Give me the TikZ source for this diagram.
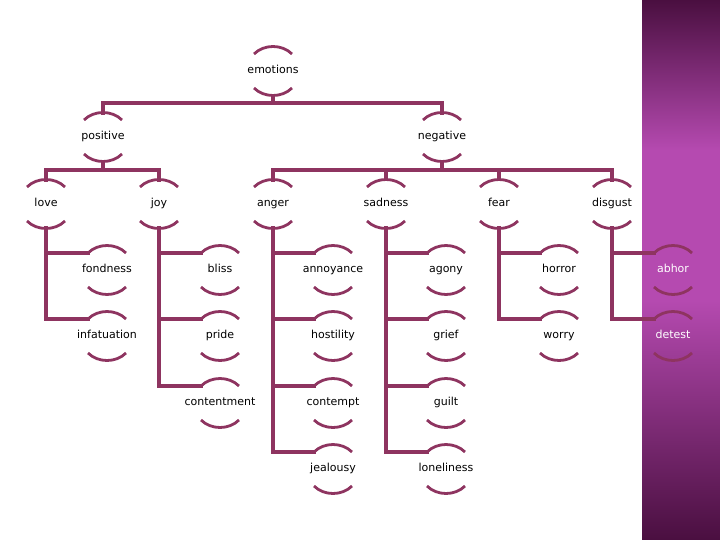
\documentclass[tikz,border=0pt]{standalone}
\usepackage{fontspec}
\setmainfont{DejaVu Sans}
\usetikzlibrary{calc}
\begin{document}
\definecolor{lc}{HTML}{8E3460}
\definecolor{bd}{HTML}{4A0F40}
\definecolor{bm}{HTML}{B54AB0}
\begin{tikzpicture}[x=1pt,y=-1pt,
 lbl/.style={font=\fontsize{11}{13}\selectfont,text=black,inner sep=0pt,text height=8pt,text depth=2.5pt},
 wl/.style={lbl,text=white},
 ln/.style={draw=lc,line width=3.6pt,line cap=rect},
 arc/.style={draw=lc,line width=2.8pt}]
\useasboundingbox (0,0) rectangle (720,540);
\shade[top color=bd,bottom color=bm,middle color=bm] (642,0) rectangle (720,300);
\shade[top color=bm,bottom color=bd] (642,300) rectangle (720,540);
\newcommand{\emnode}[4][lbl]{%
 \node[#1] (#2) at (#3) {#4};
 \draw[arc] ($(#2.center)+(-19,-17)$) .. controls +(10,-10) and +(-10,-10) .. +(38,0);
 \draw[arc] ($(#2.center)+(-19,17)$) .. controls +(10,10) and +(-10,10) .. +(38,0);
 \coordinate (k#2) at ($(#2.center)+(-19,-17)$);}
\newcommand{\kid}[2]{\draw[ln] (#1 |- k#2) -- (k#2);}
\newcommand{\trunk}[2]{\draw[ln] ($(#1)+(0,24)$) -- (#1 |- k#2);}
% nodes
\emnode{emotions}{273,71}{emotions}
\emnode{positive}{103,137}{positive}
\emnode{negative}{442,137}{negative}
\emnode{love}{46,204}{love}
\emnode{joy}{159,204}{joy}
\emnode{anger}{273,204}{anger}
\emnode{sadness}{386,204}{sadness}
\emnode{fear}{499,204}{fear}
\emnode{disgust}{612,204}{disgust}
\emnode{fondness}{107,270}{fondness}
\emnode{infatuation}{107,336}{infatuation}
\emnode{bliss}{220,270}{bliss}
\emnode{pride}{220,336}{pride}
\emnode{contentment}{220,403}{contentment}
\emnode{annoyance}{333,270}{annoyance}
\emnode{hostility}{333,336}{hostility}
\emnode{contempt}{333,403}{contempt}
\emnode{jealousy}{333,469}{jealousy}
\emnode{agony}{446,270}{agony}
\emnode{grief}{446,336}{grief}
\emnode{guilt}{446,403}{guilt}
\emnode{loneliness}{446,469}{loneliness}
\emnode{horror}{559,270}{horror}
\emnode{worry}{559,336}{worry}
\emnode[wl]{abhor}{673,270}{abhor}
\emnode[wl]{detest}{673,336}{detest}
% upper tree
\draw[ln,line cap=butt] ($(emotions)+(0,24)$) -- ($(emotions)+(0,32)$);
\draw[ln] ($(positive)+(0,-24)$) |- ($(negative)+(0,-34)$) -- ($(negative)+(0,-24)$);
\draw[ln,line cap=butt] ($(positive)+(0,24)$) -- ($(positive)+(0,33)$);
\draw[ln] ($(love)+(0,-24)$) |- ($(joy)+(0,-34)$) -- ($(joy)+(0,-24)$);
\draw[ln,line cap=butt] ($(negative)+(0,24)$) -- ($(negative)+(0,33)$);
\draw[ln] ($(anger)+(0,-24)$) |- ($(disgust)+(0,-34)$) -- ($(disgust)+(0,-24)$);
\foreach \n in {sadness,fear}{\draw[ln,line cap=butt] ($(\n)+(0,-24)$) -- ($(\n)+(0,-34)$);}
% lower trees
\trunk{love}{infatuation}\kid{love}{fondness}\kid{love}{infatuation}
\trunk{joy}{contentment}\kid{joy}{bliss}\kid{joy}{pride}\kid{joy}{contentment}
\trunk{anger}{jealousy}\kid{anger}{annoyance}\kid{anger}{hostility}\kid{anger}{contempt}\kid{anger}{jealousy}
\trunk{sadness}{loneliness}\kid{sadness}{agony}\kid{sadness}{grief}\kid{sadness}{guilt}\kid{sadness}{loneliness}
\trunk{fear}{worry}\kid{fear}{horror}\kid{fear}{worry}
\trunk{disgust}{detest}\kid{disgust}{abhor}\kid{disgust}{detest}
\end{tikzpicture}
\end{document}
